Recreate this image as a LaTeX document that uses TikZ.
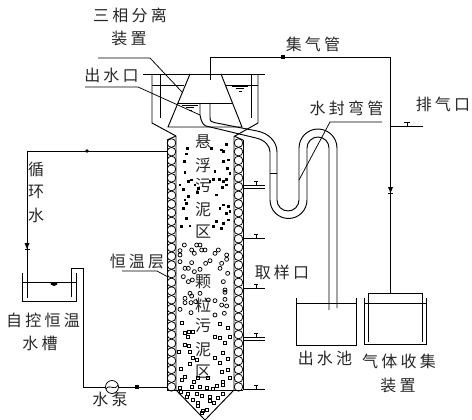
\documentclass[tikz,border=0pt]{standalone}
\usepackage{fontspec}
\newfontfamily\cjk[LetterSpace=20]{Noto Sans CJK SC}
\newfontfamily\cjktight{Noto Sans CJK SC}
\begin{document}
\begin{tikzpicture}[
  x=1pt,y=-1pt,
  line width=0.95pt,
  cnlabel/.style={inner sep=0pt,text=black!85,font=\cjk\fontsize{16}{18}\selectfont},
  cnsingle/.style={inner sep=0pt,text=black!85,font=\cjktight\fontsize{16}{18}\selectfont},
  thinline/.style={line width=0.75pt},
  waterlevel/.pic={
    \draw[thinline] (-8,0) -- (8,0) (-4,2.5) -- (4,2.5) (-1.5,5) -- (1.5,5);
  },
  valvemark/.pic={
    \fill (-2.5,-3) -- (2.5,-3) -- (0,3) -- cycle;
    \draw[thinline] (-2.5,3) -- (2.5,3);
  },
  sampleport/.pic={
    \draw (0,0) -- (22,0);
    \draw[thinline] (13,0) -- (13,-4) (11,-4) -- (15,-4);
  }
]
  \useasboundingbox (0,0) rectangle (472,420);
  % labels
  \node[cnlabel] (sanxiang) at (130,15.5) {三相分离};
  \node[cnlabel] (zhuangzhi) at (129,38.5) {装置};
  \node[cnlabel] (chushui) at (111.5,75) {出水口};
  \node[cnlabel] (jiqi) at (313,44) {集气管};
  \node[cnlabel] (shuifeng) at (346.5,108) {水封弯管};
  \node[cnlabel] (paiqi) at (443,104.5) {排气口};
  \node[cnlabel] (quyang) at (282,272) {取样口};
  \node[cnlabel] (hengwen) at (137,261.5) {恒温层};
  \node[cnlabel] (zikong) at (43,320.5) {自控恒温};
  \node[cnlabel] (shuicao) at (40,343.5) {水槽};
  \node[cnlabel] (shuibeng) at (110,399.5) {水泵};
  \node[cnlabel] (chuchi) at (325,358.5) {出水池};
  \node[cnlabel] (qiti) at (399,361) {气体收集};
  \node[cnlabel] (zhuang2) at (398,385.5) {装置};
  \foreach \ch/\yy [count=\i] in {循/169.5,环/191.5,水/215}
    \node[cnsingle] (xunhuan\i) at (36,\yy) {\ch};
  \foreach \ch/\yy [count=\i] in {悬/142,浮/165,污/185.5,泥/209.5,区/231.5,颗/281.5,粒/305,污/325.5,泥/349.5,区/371.5}
    \node[cnsingle] (zone\i) at (203,\yy) {\ch};

  % leaders
  \draw[thinline] (98,58) -- (150,58) -- (182,92);
  \draw[thinline] (85,87) -- (138,87) -- (200,115);
  \draw[thinline] (122,271) -- (157,271) -- (168,277);
  \draw[thinline] (382,122) -- (330,122) -- (299,180);

  % top tank
  \draw (143,74) -- (265,74);
  \draw (152,74) -- (152,123) -- (176,136);
  \draw (258,74) -- (258,123) -- (235,136);
  \draw (160,74) -- (160,118);
  \draw (251,74) -- (251,118);
  \draw (190,74) -- (168,127) -- (242,127) -- (221,74);
  \draw (178,103) -- (232,103);
  \draw (152,85) -- (184,85);
  \draw (225,85) -- (258,85);
  \pic at (240,86) {waterlevel};
  \pic at (190,105) {waterlevel};

  % outlet pipe and water seal
  \draw (210,103) -- (210,117) .. controls (210,121) and (211,122) .. (214,122.5)
    -- (257,131) .. controls (268,133) and (277,141) .. (277,152) -- (277,200)
    arc[start angle=180,end angle=0,radius=11] -- (299,148)
    arc[start angle=180,end angle=360,radius=19] -- (337,308);
  \draw (200,103) -- (200,115) .. controls (201,121) and (203,125) .. (206,126)
    -- (256,138) .. controls (265,140) and (270,146) .. (270,152) -- (270,200)
    arc[start angle=180,end angle=0,radius=18.5] -- (307,148)
    arc[start angle=180,end angle=360,radius=11] -- (329,310);
  \draw (270,173) -- (277,173);

  % gas line
  \draw (210,80) -- (210,57) -- (390.5,57) -- (390.5,293);
  \fill (281,55) rectangle (285,59);
  \pic at (390.5,190) {valvemark};
  \draw (390.5,126) -- (423,126);
  \draw[thinline] (407,126) -- (407,122) (404,122) -- (410,122);

  % column
  \draw (176,136) -- (176,390) -- (205,420) -- (234,390) -- (234,136);
  \draw (167,140) -- (167,390) -- (243,390);
  \draw (243,140) -- (243,390);
  \draw (167,140) -- (176,136) (243,140) -- (234,136);
  \foreach \i in {0,...,28} {
    \draw[thinline] (171.5,143+8.71*\i) circle[radius=4.3pt];
    \draw[thinline] (238.5,143+8.71*\i) circle[radius=4.3pt];
  }
  \foreach \yy in {238,288,389}
    \pic at (243,\yy) {sampleport};
  \foreach \yy in {187,339} {
    \pic at (243,\yy-1.5) {sampleport};
    \draw[thinline] (243,\yy+1.5) -- (265,\yy+1.5);
  }

  % sludge particles
  \begin{scope}[shift={(165,140)},x=0.3333pt,y=-0.3333pt]
    \foreach \a/\b in {67/25,65/42,185/14,170/30,175/35,140/25,190/60,175/65,58/65,60/97,150/95,188/85,195/100,163/118,145/118,185/118,175/125,172/143,185/135,135/125,80/120,90/135,70/125,100/145,97/158,45/135,55/148,155/165,70/170,60/180,65/190,55/205,175/195,190/200,165/205,195/215,185/220,65/235,155/245,190/240,175/250,50/260,75/258,170/265,145/260}
      \fill (\a,\b) ++(-1.2pt,-1.2pt) rectangle ++(2.4pt,2.4pt);
  \end{scope}
  \begin{scope}[shift={(165,230)},x=0.3333pt,y=-0.3333pt,thinline]
    \foreach \a/\b in {58/45,45/62,45/75,45/95,95/45,105/45,80/60,88/70,110/60,120/60,160/60,150/70,185/75,185/88,135/92,122/100,170/100,165/115,80/98,60/115,70/115,88/125,105/118,188/130,55/140,70/155,82/150,175/155,75/190,80/198,105/190,180/180,180/187,60/205,60/218,78/218,92/215,130/210,150/212,180/208,170/225,185/228,45/238,78/248,150/255,178/250}
      \draw (\a,\b) circle[radius=2pt];
  \end{scope}
  \begin{scope}[shift={(165,320)},x=0.3333pt,y=-0.3333pt,line width=0.7pt]
    \foreach \a/\b in {50/8,60/40,72/35,85/35,70/50,60/75,72/78,42/95,75/97,85/115,95/120,75/133,165/12,190/25,195/50,150/50,165/55,180/70,175/100,150/115,165/130,190/118,48/148,60/170,50/180,100/175,88/185,190/150,170/155,195/175,175/185,175/195,130/175,80/200,105/200,125/203,145/207,155/198,45/203,48/215,70/222,65/230,95/222,110/228,135/232,135/242,175/222,160/235,85/240,98/248,100/258,148/250,115/272,125/270,112/280}
      \draw (\a,\b) ++(-1.5pt,-1.5pt) rectangle ++(3pt,3pt);
  \end{scope}

  % circulating water
  \draw (167,151) -- (27,151) -- (27,298);
  \fill (87,151) circle[radius=1.8pt];
  \pic at (27,246) {valvemark};
  \draw (22,273) -- (22,301) -- (76,301) -- (76,273);
  \draw (22,282) -- (76,282);
  \fill (50,282) arc[start angle=180,end angle=360,radius=4pt] -- cycle;
  \draw (71,297) -- (71,268) -- (83,268) -- (83,387) -- (167,387);
  \draw[thinline,fill=white] (112,387) circle[radius=6.5pt];
  \draw[thinline] (106,389) .. controls (110,383) and (114,392) .. (118,385);
  \fill (135,385) rectangle (139,389);

  % outlet pool
  \draw (296,298) -- (296,345) -- (356,345) -- (356,298);
  \draw (296,303) -- (356,303);

  % gas collector
  \draw (364,298) -- (364,344) -- (426,344) -- (426,298);
  \draw (364,303) -- (426,303);
  \draw (368,342) -- (368,293) -- (422,293) -- (422,342);
\end{tikzpicture}
\end{document}
